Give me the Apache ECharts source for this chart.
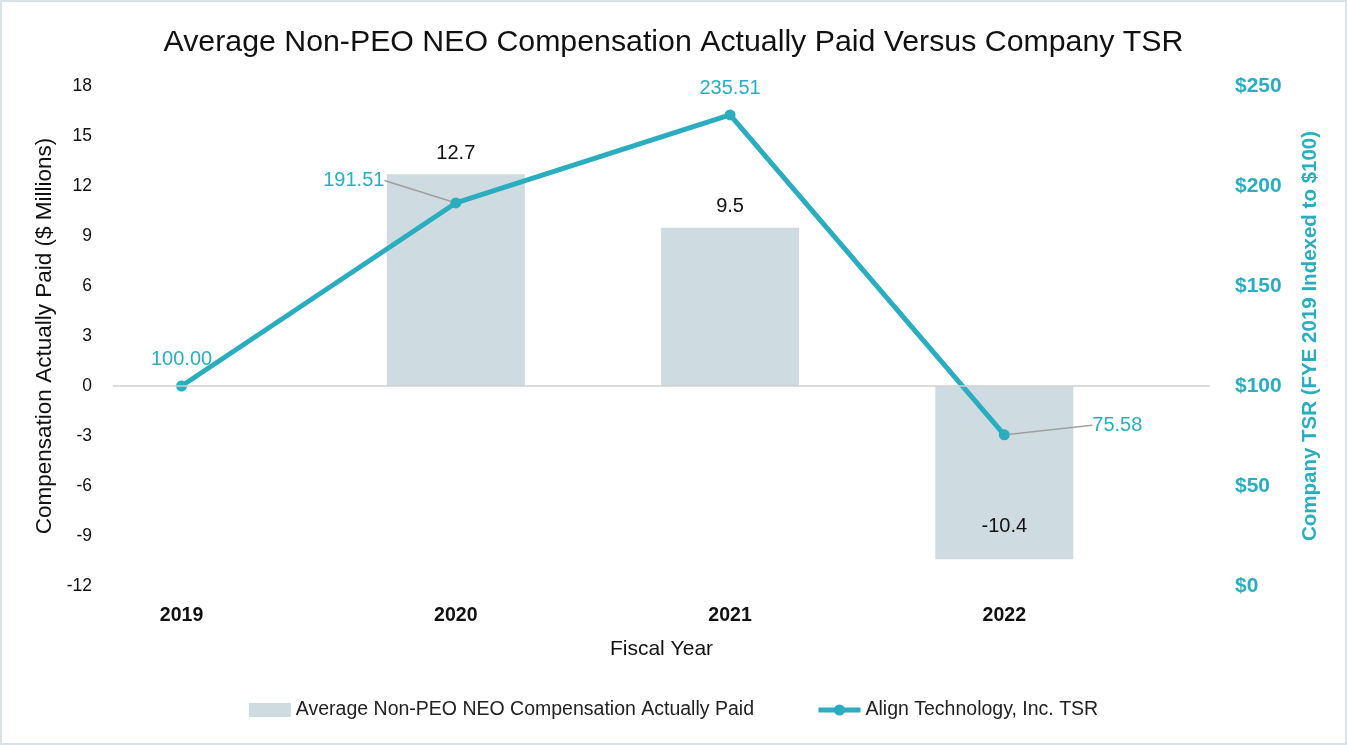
<!DOCTYPE html>
<html><head><meta charset="utf-8">
<script src="https://cdn.jsdelivr.net/npm/echarts@6/dist/echarts.min.js"></script>
<style>html,body{margin:0;padding:0;background:#fff}#c{width:1343px;height:741px;border:2px solid #d8e2e7}</style>
</head><body><div id="c"></div>
<script>
const years = ['2019','2020','2021','2022'];
const compValues = [null, 12.7, 9.5, -10.4];
const tsrValues = [100.00, 191.51, 235.51, 75.58];
const leftTicks = {min:-12, max:18, interval:3};
const rightTicks = {min:0, max:250, interval:50};

const teal = '#2aaebf';
const barColor = '#cedbe0';
const font = 'Liberation Sans, Arial, sans-serif';

const barData = compValues.map((v,i)=> v===null ? null : {
  value:[i,v],
  label: v<0 ? {position:'insideBottom', distance:23} : {position:'top', distance:11}
}).filter(d=>d);
const leaderIdx = [1,3];
const lineData = tsrValues.map((v,i)=>({value:[i,v], labelLine:{show: leaderIdx.includes(i)}}));

const chart = echarts.init(document.getElementById('c'));
chart.setOption({
  backgroundColor:'#fff',
  textStyle:{fontFamily:font},
  title:{text:'Average Non-PEO NEO Compensation Actually Paid Versus Company TSR', left:'center', top:21,
    textStyle:{fontFamily:font, fontSize:30.3, fontWeight:'normal', color:'#111'}},
  grid:{left:111, right:135, top:84, bottom:157},
  legend:{bottom:18, itemGap:62, itemWidth:42, itemHeight:14,
    textStyle:{fontFamily:font, fontSize:19.5, color:'#222'},
    data:[{name:'Average Non-PEO NEO Compensation Actually Paid', icon:'rect'},
          {name:'Align Technology, Inc. TSR', lineStyle:{width:5}}]},
  xAxis:{type:'value', min:-0.25, max:3.75,
    axisLine:{show:false, onZero:false}, axisTick:{show:false}, splitLine:{show:false},
    axisLabel:{customValues:[0,1,2,3], formatter:(v)=>years[Math.round(v)], margin:20,
      fontFamily:font, fontSize:19.5, fontWeight:'bold', color:'#111'},
    name:'Fiscal Year', nameLocation:'middle', nameGap:53,
    nameTextStyle:{fontFamily:font, fontSize:21, color:'#111'}},
  yAxis:[
    {type:'value', min:leftTicks.min, max:leftTicks.max, interval:leftTicks.interval,
     axisLine:{show:false}, axisTick:{show:false}, splitLine:{show:false},
     axisLabel:{margin:21, fontFamily:font, fontSize:17.5, color:'#111'},
     name:'Compensation Actually Paid ($ Millions)', nameLocation:'middle', nameGap:52, nameRotate:90,
     nameTextStyle:{fontFamily:font, fontSize:22.5, color:'#111'}},
    {type:'value', min:rightTicks.min, max:rightTicks.max, interval:rightTicks.interval, position:'right',
     axisLine:{show:false}, axisTick:{show:false}, splitLine:{show:false},
     axisLabel:{margin:25, fontFamily:font, fontSize:21, fontWeight:'bold', color:teal, formatter:(v)=>'$'+v},
     name:'Company TSR (FYE 2019 Indexed to $100)', nameLocation:'middle', nameGap:90, nameRotate:90,
     nameTextStyle:{fontFamily:font, fontSize:20.5, fontWeight:'bold', color:teal}}
  ],
  series:[
    {name:'Average Non-PEO NEO Compensation Actually Paid', type:'bar', yAxisIndex:0, barWidth:138,
     itemStyle:{color:barColor}, data:barData,
     label:{show:true, fontFamily:font, fontSize:20, color:'#111', formatter:(p)=>p.value[1].toFixed(1)},
     markLine:{silent:true, symbol:'none', label:{show:false}, lineStyle:{color:'#d0d0d0', width:1.5, type:'solid'},
       data:[{yAxis:0}]},
     z:1},
    {name:'Align Technology, Inc. TSR', type:'line', yAxisIndex:1, data:lineData,
     lineStyle:{color:teal, width:5}, itemStyle:{color:teal}, symbol:'circle', symbolSize:11,
     label:{show:true, position:'top', distance:11, fontFamily:font, fontSize:20, color:teal,
       formatter:(p)=>p.value[1].toFixed(2)},
     labelLine:{show:false, lineStyle:{color:'#a0a0a0', width:1.5}},
     labelLayout:(p)=>{
       if(p.dataIndex===1) return {dx:-102, dy:4};
       if(p.dataIndex===3) return {dx:113, dy:17};
       return {};
     },
     z:3}
  ]
});
</script></body></html>
